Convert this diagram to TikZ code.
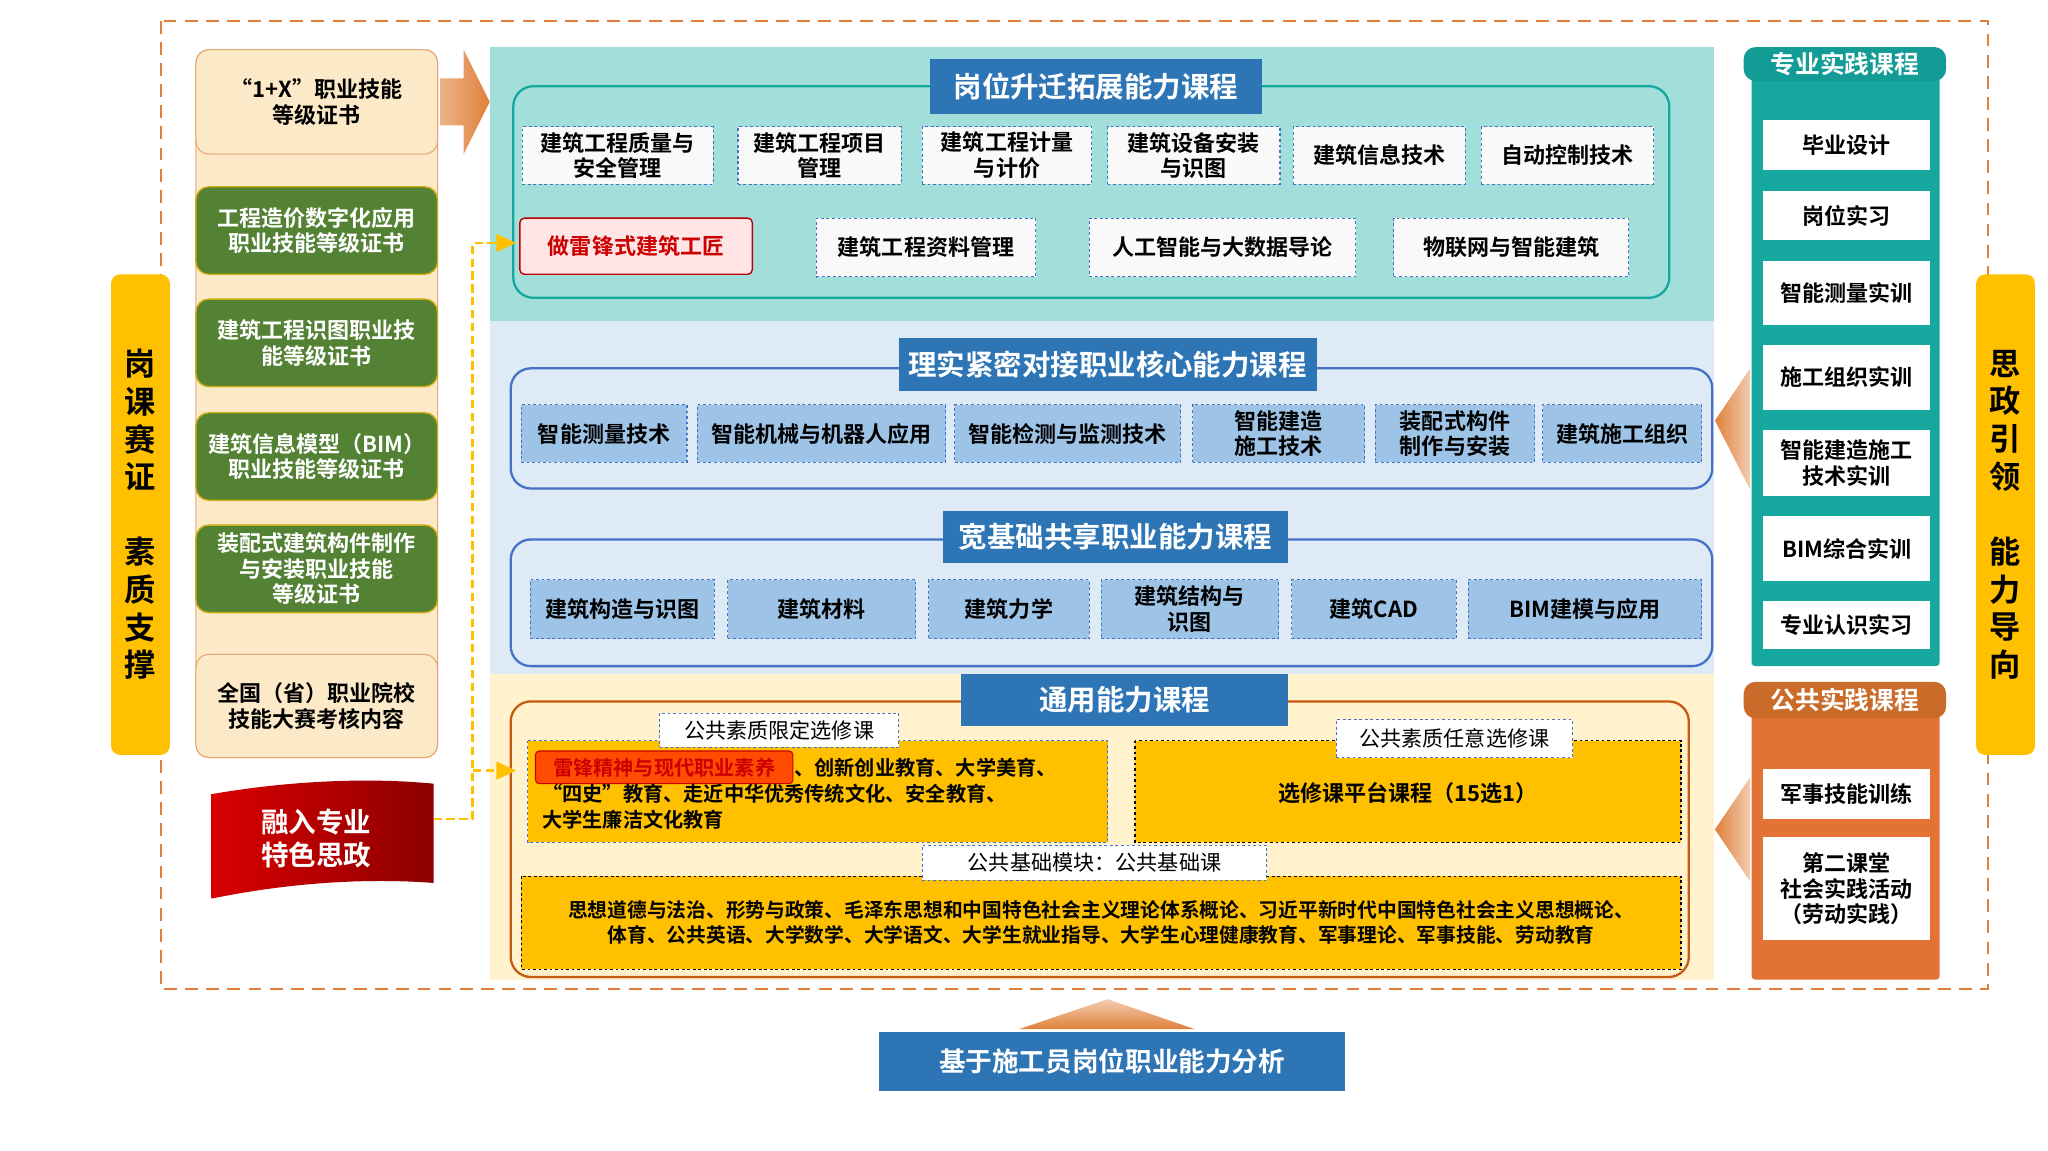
\documentclass[tikz,border=0pt]{standalone}
\usepackage{fontspec}
\setmainfont{Noto Sans CJK SC Bold}
\newfontfamily\cjkreg{Noto Sans CJK SC}
\usetikzlibrary{arrows.meta,shapes.arrows}
\definecolor{tealbg}{HTML}{A2DFDB}
\definecolor{bluebg}{HTML}{DEEAF6}
\definecolor{creambg}{HTML}{FFF2CC}
\definecolor{tblue}{HTML}{2E75B6}
\definecolor{bbord}{HTML}{4472C4}
\definecolor{bfill}{HTML}{9DC3E6}
\definecolor{gr}{HTML}{548235}
\definecolor{yl}{HTML}{FFC000}
\definecolor{org}{HTML}{E0803A}
\definecolor{dorg}{HTML}{C55A11}
\definecolor{tl}{HTML}{16A89E}
\definecolor{tlb}{HTML}{139C95}
\definecolor{ltor}{HTML}{FCE9C8}
\newcommand\bx[7][]{\node[#1, minimum width={(#4-#2)*0.05cm}, minimum height={(#5-#3)*0.05cm}, inner sep=0pt, align=center] (#6) at ({(#2+#4)/2},{(#3+#5)/2}) {#7};}
\tikzset{
 txt/.style={font=\fontsize{24}{28}\selectfont},
 title/.style={fill=tblue, text=white, font=\fontsize{31}{35}\selectfont},
 wbox/.style={txt, draw=bbord, dashed, line width=1.2pt, fill=white!95!gray},
 lbox/.style={txt, draw=bbord, dashed, line width=1.2pt, fill=bfill},
 gbox/.style={txt, fill=gr, text=white, rounded corners=14pt, draw=yl!70!gr, line width=1.5pt},
 obox/.style={txt, fill=ltor, draw=org!70, rounded corners=14pt, line width=1.2pt},
 pbox/.style={txt, fill=white},
 side/.style={fill=yl, rounded corners=10pt, font=\fontsize{34}{41}\selectfont},
 tag/.style={font=\cjkreg\fontsize{23}{27}\selectfont, fill=white, draw=bbord, dashed, line width=1pt},
 ydash/.style={yl, line width=3pt, dash pattern=on 9pt off 5pt},
}
\begin{document}
\begin{tikzpicture}[x=0.05cm,y=-0.05cm]
\useasboundingbox[fill=white] (0,0) rectangle (1568,881);
% backgrounds
\fill[tealbg] (375,36) rectangle (1312,246);
\fill[bluebg] (375,246) rectangle (1312,516);
\fill[creambg] (375,516) rectangle (1312,750);
\draw[org, line width=2.5pt, dash pattern=on 14pt off 9pt] (123,16) rectangle (1522,757);
% side bars
\bx[side]{85}{210}{130}{578}{lside}{岗\\课\\赛\\证\\[1.2em]素\\质\\支\\撑}
\bx[side]{1513}{210}{1558}{578}{rside}{思\\政\\引\\领\\[1.2em]能\\力\\导\\向}
% left column
\fill[ltor, draw=org!70, line width=1.2pt, rounded corners=14pt] (150,38) rectangle (335,580);
\bx[obox]{150}{38}{335}{118}{c1}{“1+X”职业技能\\等级证书}
\bx[gbox]{150}{143}{335}{210}{c2}{工程造价数字化应用\\职业技能等级证书}
\bx[gbox]{150}{229}{335}{296}{c3}{建筑工程识图职业技\\能等级证书}
\bx[gbox]{150}{316}{335}{383}{c4}{建筑信息模型（BIM）\\职业技能等级证书}
\bx[gbox]{150}{402}{335}{469}{c5}{装配式建筑构件制作\\与安装职业技能\\等级证书}
\bx[obox]{150}{501}{335}{580}{c6}{全国（省）职业院校\\技能大赛考核内容}
\shade[left color=org!60, right color=org] (337,60) -- (355,60) -- (355,38) -- (375,78) -- (355,118) -- (355,96) -- (337,96) -- cycle;
% flag
\shade[left color=red!85!black, right color=red!55!black] (162,608) .. controls (220,598) and (280,595) .. (332,600) -- (332,676) .. controls (280,672) and (220,676) .. (162,688) -- cycle;
\node[text=white, font=\fontsize{30}{35}\selectfont, align=center] (flag) at (242,642) {融入专业\\特色思政};
% top section
\draw[tl, line width=2.5pt, rounded corners=22pt] (393,66) rectangle (1278,228);
\bx[title]{712}{45}{966}{87}{t1}{岗位升迁拓展能力课程}
\bx[wbox]{400}{97}{546}{141}{a1}{建筑工程质量与\\安全管理}
\bx[wbox]{565}{97}{690}{141}{a2}{建筑工程项目\\管理}
\bx[wbox]{706}{97}{836}{141}{a3}{建筑工程计量\\与计价}
\bx[wbox]{848}{97}{980}{141}{a4}{建筑设备安装\\与识图}
\bx[wbox]{990}{97}{1122}{141}{a5}{建筑信息技术}
\bx[wbox]{1134}{97}{1266}{141}{a6}{自动控制技术}
\bx[txt, fill=red!10, draw=red!75!black, line width=1.5pt, rounded corners=5pt, text=red!80!black]{398}{167}{576}{210}{lf}{做雷锋式建筑工匠}
\bx[wbox]{625}{167}{793}{212}{a7}{建筑工程资料管理}
\bx[wbox]{834}{167}{1038}{212}{a8}{人工智能与大数据导论}
\bx[wbox]{1067}{167}{1247}{212}{a9}{物联网与智能建筑}
% middle
\draw[bbord, line width=2.5pt, rounded corners=22pt] (391,282) rectangle (1311,374);
\bx[title]{688}{259}{1008}{299}{t2}{理实紧密对接职业核心能力课程}
\bx[lbox]{399}{310}{526}{354}{b1}{智能测量技术}
\bx[lbox]{534}{310}{724}{354}{b2}{智能机械与机器人应用}
\bx[lbox]{731}{310}{904}{354}{b3}{智能检测与监测技术}
\bx[lbox]{913}{310}{1045}{354}{b4}{智能建造\\施工技术}
\bx[lbox]{1053}{310}{1175}{354}{b5}{装配式构件\\制作与安装}
\bx[lbox]{1181}{310}{1303}{354}{b6}{建筑施工组织}
\draw[bbord, line width=2.5pt, rounded corners=22pt] (391,413) rectangle (1311,510);
\bx[title]{722}{391}{986}{431}{t3}{宽基础共享职业能力课程}
\bx[lbox]{406}{444}{547}{489}{d1}{建筑构造与识图}
\bx[lbox]{557}{444}{701}{489}{d2}{建筑材料}
\bx[lbox]{711}{444}{834}{489}{d3}{建筑力学}
\bx[lbox]{843}{444}{979}{489}{d4}{建筑结构与\\识图}
\bx[lbox]{989}{444}{1115}{489}{d5}{建筑CAD}
\bx[lbox]{1124}{444}{1303}{489}{d6}{BIM建模与应用}
% general
\draw[dorg, line width=2.5pt, rounded corners=22pt] (391,537) rectangle (1293,748);
\bx[title]{736}{516}{986}{556}{t4}{通用能力课程}
\fill[yl] (404,567) rectangle (848,645);
\draw[bbord, dashed, line width=1pt] (404,567) rectangle (848,645);
\bx[txt, font=\fontsize{22}{26}\selectfont, fill=red!40!orange, text=red!80!black, draw=red!80!black, line width=1.2pt, rounded corners=4pt]{410}{575}{607}{600}{lf2}{雷锋精神与现代职业素养}
\node[txt, font=\fontsize{22}{26}\selectfont, anchor=west, inner sep=0pt] (g1a) at (608,587.5) {、创新创业教育、大学美育、};
\node[txt, font=\fontsize{22}{28}\selectfont, anchor=north west, align=left, inner sep=0pt] (g1) at (415,600) {“四史”教育、走近中华优秀传统文化、安全教育、\\大学生廉洁文化教育};
\bx[tag]{505}{546}{688}{572}{tg1}{公共素质限定选修课}
\fill[yl] (869,567) rectangle (1287,645);
\draw[black, dashed, line width=1.2pt] (869,567) rectangle (1287,645);
\node[txt] (g2) at (1078,607) {选修课平台课程（15选1）};
\bx[tag]{1023}{551}{1204}{580}{tg2}{公共素质任意选修课}
\fill[yl] (399,671) rectangle (1287,742);
\draw[black, dashed, line width=1.2pt] (399,671) rectangle (1287,742);
\node[txt, font=\fontsize{21.5}{27}\selectfont, align=center] (g3) at (843,706) {思想道德与法治、形势与政策、毛泽东思想和中国特色社会主义理论体系概论、习近平新时代中国特色社会主义思想概论、\\体育、公共英语、大学数学、大学语文、大学生就业指导、大学生心理健康教育、军事理论、军事技能、劳动教育};
\bx[tag]{706}{647}{970}{674}{tg3}{公共基础模块：公共基础课}
% yellow dashed connectors
\coordinate (fl) at (332,627);
\coordinate (vtop) at (362,186);
\coordinate (vbot) at (362,590);
\draw[ydash] (fl) -- (362,627) -- (vtop) -- ++(18,0);
\draw[ydash] (vbot) -- ++(18,0);
\fill[yl] (380,179) -- (395,186) -- (380,193) -- cycle;
\fill[yl] (380,583) -- (395,590) -- (380,597) -- cycle;
% right column
\fill[tl, rounded corners=4pt] (1341,50) rectangle (1485,510);
\bx[txt, fill=tlb, text=white, rounded corners=13pt, font=\fontsize{27}{31}\selectfont]{1335}{36}{1490}{62}{rt1}{专业实践课程}
\bx[pbox]{1350}{92}{1478}{130}{p1}{毕业设计}
\bx[pbox]{1350}{146}{1478}{184}{p2}{岗位实习}
\bx[pbox]{1350}{200}{1478}{249}{p3}{智能测量实训}
\bx[pbox]{1350}{264}{1478}{314}{p4}{施工组织实训}
\bx[pbox]{1350}{329}{1478}{380}{p5}{智能建造施工\\技术实训}
\bx[pbox]{1350}{395}{1478}{445}{p6}{BIM综合实训}
\bx[pbox]{1350}{460}{1478}{497}{p7}{专业认识实习}
\fill[org!90!red, rounded corners=4pt] (1341,535) rectangle (1485,750);
\bx[txt, fill=dorg!90, text=white, rounded corners=13pt, font=\fontsize{27}{31}\selectfont]{1335}{522}{1490}{550}{rt2}{公共实践课程}
\bx[pbox]{1350}{589}{1478}{627}{q1}{军事技能训练}
\bx[pbox]{1350}{641}{1478}{720}{q2}{第二课堂\\社会实践活动\\（劳动实践）}
\shade[left color=org, right color=org!40] (1313,322) -- (1340,282) -- (1340,375) -- cycle;
\shade[left color=org, right color=org!40] (1313,635) -- (1340,595) -- (1340,675) -- cycle;
% bottom
\shade[top color=org!40, bottom color=org] (780,788) -- (848,765) -- (915,788) -- cycle;
\bx[title, font=\fontsize{29}{33}\selectfont]{673}{790}{1030}{835}{base}{基于施工员岗位职业能力分析}
\end{tikzpicture}
\end{document}
